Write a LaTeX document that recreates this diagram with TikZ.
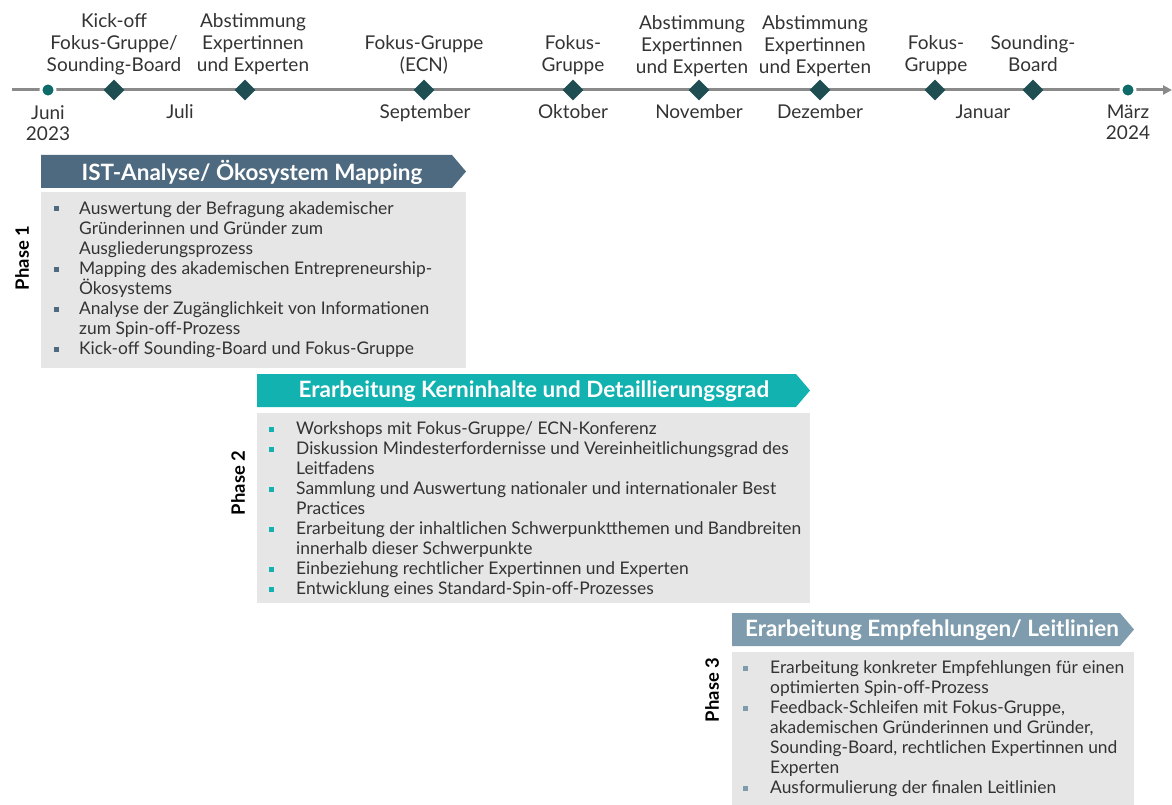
\documentclass[tikz,border=0pt]{standalone}
\usepackage{fontspec}
\setmainfont{Lato}
\usetikzlibrary{shapes.geometric,arrows.meta}
\definecolor{tl}{HTML}{8A8A8A}
\definecolor{dk}{HTML}{1E4D52}
\definecolor{ci}{HTML}{0E6B6A}
\definecolor{pa}{HTML}{4E6A80}
\definecolor{pb}{HTML}{12B2B0}
\definecolor{pc}{HTML}{7E9CAD}
\definecolor{bg}{HTML}{E6E6E6}
\definecolor{tx}{HTML}{333333}
\begin{document}
\begin{tikzpicture}[x=1pt,y=-1pt,
  ms/.style={diamond, fill=dk, minimum width=21pt, minimum height=21pt, inner sep=0},
  tdot/.style={circle, fill=ci, draw=white, line width=3pt, minimum size=14pt, inner sep=0},
  tline/.style={draw=tl, line width=3pt, -{Triangle[length=9pt,width=9pt]}},
  toplab/.style={align=center, anchor=north, font=\fontsize{19}{22}\selectfont, text=tx, inner sep=0},
  mlab/.style={anchor=base, font=\fontsize{19}{21}\selectfont, text=tx, inner sep=0},
  mlab2/.style={align=center, anchor=north, font=\fontsize{19}{21}\selectfont, text=tx, inner sep=0},
  hdtext/.style={font=\fontsize{22.5}{24}\selectfont\bfseries, text=white, inner sep=0},
  body/.style={fill=bg},
  item/.style={anchor=north west, align=left, inner sep=0, text=tx, font=\fontsize{17.4}{20}\selectfont},
  bul/.style={rectangle, fill=#1, minimum size=5pt, inner sep=0},
  phase/.style={rotate=90, font=\fontsize{18.4}{20}\selectfont\bfseries, text=black, inner sep=0}
]
\useasboundingbox (0,0) rectangle (1172,805);
% timeline
\coordinate (tls) at (12,90);
\coordinate (tle) at (1172,90);
\draw[tline] (tls) -- (tle);
\node[tdot] (d0) at (48,90) {};
\node[tdot] (d9) at (1128,90) {};
\node[ms] (m1) at (114,90) {};
\node[ms] (m2) at (245,90) {};
\node[ms] (m3) at (424,90) {};
\node[ms] (m4) at (573,90) {};
\node[ms] (m5) at (699,90) {};
\node[ms] (m6) at (820,90) {};
\node[ms] (m7) at (935,90) {};
\node[ms] (m8) at (1033,90) {};
% top labels
\node[toplab] (l1) at (114,13) {Kick-off\\Fokus-Gruppe/\\Sounding-Board};
\node[toplab] (l2) at (253,13) {Abstimmung\\Expertinnen\\und Experten};
\node[toplab] (l3) at (424,35) {Fokus-Gruppe\\(ECN)};
\node[toplab] (l4) at (573,35) {Fokus-\\Gruppe};
\node[toplab] (l5) at (692,15) {Abstimmung\\Expertinnen\\und Experten};
\node[toplab] (l6) at (815,15) {Abstimmung\\Expertinnen\\und Experten};
\node[toplab] (l7) at (936,35) {Fokus-\\Gruppe};
\node[toplab] (l8) at (1033,35) {Sounding-\\Board};
% month labels
\node[mlab2] (mo0) at (48,105) {Juni\\2023};
\node[mlab] (mo1) at (180,119) {Juli};
\node[mlab] (mo2) at (425,119) {September};
\node[mlab] (mo3) at (573,119) {Oktober};
\node[mlab] (mo4) at (699,119) {November};
\node[mlab] (mo5) at (820,119) {Dezember};
\node[mlab] (mo6) at (983,119) {Januar};
\node[mlab2] (mo9) at (1128,105) {März\\2024};

% Phase 1
\fill[pa] (41,155) -- (452,155) -- (466,171.5) -- (452,188) -- (41,188) -- cycle;
\node[hdtext] (h1) at (252,172) {IST-Analyse/ Ökosystem Mapping};
\fill[body] (41,192) rectangle (466,368);
\node[phase] (p1) at (22,258) {Phase 1};
\node[bul=pa] (b11) at (56,209) {};
\node[item] (i11) at (79,201) {Auswertung der Befragung akademischer\\Gründerinnen und Gründer zum\\Ausgliederungsprozess};
\node[bul=pa] (b12) at (56,269) {};
\node[item] (i12) at (79,261) {Mapping des akademischen Entrepreneurship-\\Ökosystems};
\node[bul=pa] (b13) at (56,309) {};
\node[item] (i13) at (79,301) {Analyse der Zugänglichkeit von Informationen\\zum Spin-off-Prozess};
\node[bul=pa] (b14) at (56,349) {};
\node[item] (i14) at (79,341) {Kick-off Sounding-Board und Fokus-Gruppe};

% Phase 2
\fill[pb] (257,374) -- (796,374) -- (810,390.5) -- (796,407) -- (257,407) -- cycle;
\node[hdtext] (h2) at (534,391) {Erarbeitung Kerninhalte und Detaillierungsgrad};
\fill[body] (257,413) rectangle (810,603);
\node[phase] (p2) at (238,483) {Phase 2};
\node[bul=pb] (b21) at (271,429) {};
\node[item] (i21) at (296,421) {Workshops mit Fokus-Gruppe/ ECN-Konferenz};
\node[bul=pb] (b22) at (271,449) {};
\node[item] (i22) at (296,441) {Diskussion Mindesterfordernisse und Vereinheitlichungsgrad des\\Leitfadens};
\node[bul=pb] (b23) at (271,489) {};
\node[item] (i23) at (296,481) {Sammlung und Auswertung nationaler und internationaler Best\\Practices};
\node[bul=pb] (b24) at (271,529) {};
\node[item] (i24) at (296,521) {Erarbeitung der inhaltlichen Schwerpunktthemen und Bandbreiten\\innerhalb dieser Schwerpunkte};
\node[bul=pb] (b25) at (271,569) {};
\node[item] (i25) at (296,561) {Einbeziehung rechtlicher Expertinnen und Experten};
\node[bul=pb] (b26) at (271,589) {};
\node[item] (i26) at (296,581) {Entwicklung eines Standard-Spin-off-Prozesses};

% Phase 3
\fill[pc] (732,613) -- (1120,613) -- (1134,629.5) -- (1120,646) -- (732,646) -- cycle;
\node[hdtext] (h3) at (932,630) {Erarbeitung Empfehlungen/ Leitlinien};
\fill[body] (732,652) rectangle (1134,805);
\node[phase] (p3) at (712,690) {Phase 3};
\node[bul=pc] (b31) at (745,668) {};
\node[item] (i31) at (770,660) {Erarbeitung konkreter Empfehlungen für einen\\optimierten Spin-off-Prozess};
\node[bul=pc] (b32) at (745,708) {};
\node[item] (i32) at (770,700) {Feedback-Schleifen mit Fokus-Gruppe,\\akademischen Gründerinnen und Gründer,\\Sounding-Board, rechtlichen Expertinnen und\\Experten};
\node[bul=pc] (b33) at (745,788) {};
\node[item] (i33) at (770,780) {Ausformulierung der finalen Leitlinien};
\end{tikzpicture}
\end{document}
